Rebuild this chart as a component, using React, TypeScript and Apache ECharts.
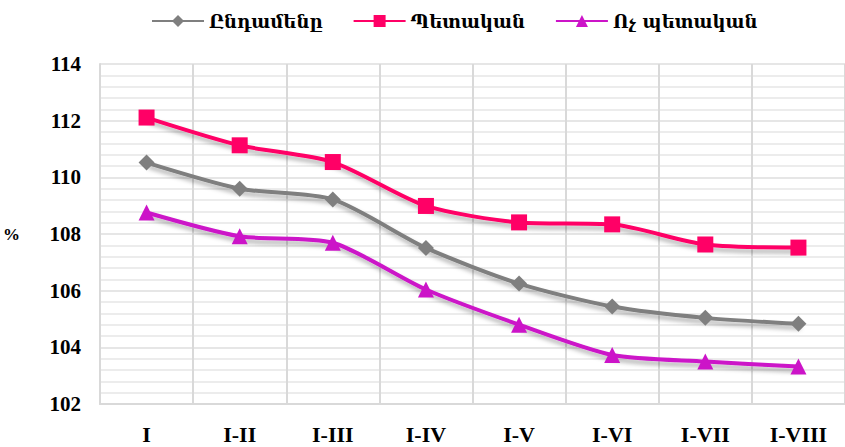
import React, { useEffect, useRef } from "react";
import * as echarts from "echarts";

const categories = ["I", "I-II", "I-III", "I-IV", "I-V", "I-VI", "I-VII", "I-VIII"];
const seriesNames = ["Ընդամենը", "Պետական", "Ոչ պետական"];
const totalValues = [110.52, 109.6, 109.22, 107.51, 106.25, 105.44, 105.04, 104.83];
const stateValues = [112.11, 111.13, 110.54, 108.99, 108.41, 108.34, 107.63, 107.52];
const nonStateValues = [108.76, 107.92, 107.69, 106.04, 104.8, 103.73, 103.5, 103.32];
const yMin = 102;
const yMax = 114;
const yInterval = 2;
const yName = "%";

const colors = ["#7f7f7f", "#ff0066", "#cc14c8"];
const symbols = ["diamond", "rect", "triangle"];
const symbolSizes = [16, 16, 16];

export default function App() {
  const ref = useRef<HTMLDivElement>(null);
  useEffect(() => {
    if (!ref.current) return;
    const chart = echarts.init(ref.current, undefined, { renderer: "svg" });
    const data = [totalValues, stateValues, nonStateValues];
    const labelFont = { fontFamily: "Liberation Serif, DejaVu Serif, serif", fontWeight: "bold", color: "#000" };
    chart.setOption({
      animation: false,
      legend: {
        top: 7,
        left: 146,
        itemWidth: 52,
        itemHeight: 15,
        itemGap: 30,
        textStyle: { fontFamily: "DejaVu Serif, serif", fontWeight: "bold", fontSize: 18, color: "#000" },
        data: seriesNames,
      },
      grid: { left: 97, right: -7, top: 64, bottom: 43 },
      xAxis: {
        type: "category",
        data: categories,
        boundaryGap: true,
        axisLine: { show: true, lineStyle: { color: "#d9d9d9", width: 2 } },
        axisTick: { show: false },
        splitLine: { show: true, lineStyle: { color: "#d9d9d9", width: 2 } },
        axisLabel: { ...labelFont, fontSize: 22, margin: 19, interval: 0 },
      },
      yAxis: {
        type: "value",
        min: yMin,
        max: yMax,
        interval: yInterval,
        name: yName,
        nameLocation: "middle",
        nameRotate: 0,
        nameGap: 80,
        nameTextStyle: { ...labelFont, fontSize: 17 },
        axisLine: { show: true, lineStyle: { color: "#d9d9d9", width: 2 } },
        axisTick: { show: false },
        axisLabel: { ...labelFont, fontSize: 21, margin: 19 },
        splitLine: { show: true, lineStyle: { color: "#e6e6e6", width: 2 } },
        minorTick: { show: false, splitNumber: 5 },
        minorSplitLine: { show: true, lineStyle: { color: "#ececec", width: 2 } },
      },
      series: seriesNames.map((name, i) => ({
        name,
        type: "line",
        data: data[i],
        smooth: 0.25,
        symbol: symbols[i],
        symbolSize: symbolSizes[i],
        itemStyle: { color: colors[i] },
        lineStyle: {
          color: colors[i],
          width: 4,
          shadowColor: "rgba(0,0,0,0.3)",
          shadowBlur: 4,
          shadowOffsetX: 2,
          shadowOffsetY: 4,
        },
        z: 3 + i,
      })),
    });
    return () => chart.dispose();
  }, []);
  return (
    <div
      ref={ref}
      style={{ position: "fixed", left: 0, top: 0, width: 845, height: 447, background: "#fff" }}
    />
  );
}
